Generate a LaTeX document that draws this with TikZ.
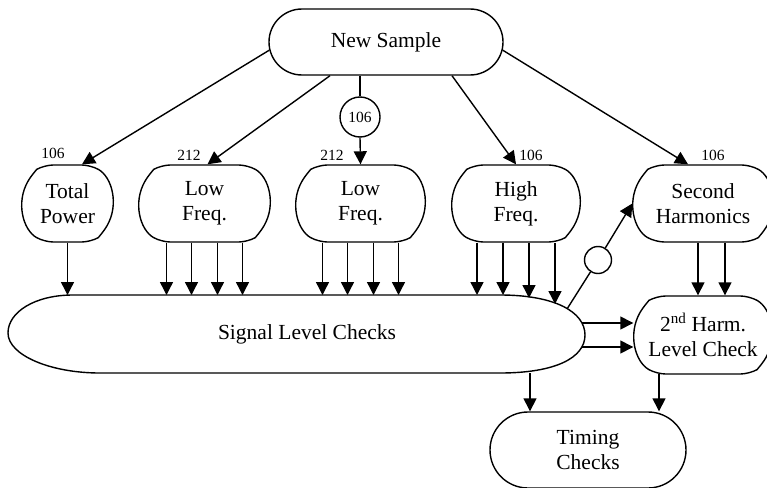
\documentclass[tikz,border=0pt]{standalone}
\usepackage{fontspec}
\setmainfont{Liberation Serif}
\usetikzlibrary{shapes.misc,arrows.meta}

\begin{document}
\begin{tikzpicture}[x=1pt, y=-1pt, line width=1.4pt,
  arr/.style={-{Triangle[length=13pt,width=13pt]}},
  txt/.style={font=\fontsize{21.5}{25}\selectfont, align=center},
  pill/.style={txt, draw, rounded rectangle, inner sep=0pt},
  block/.style={pill, rounded rectangle arc length=120, rounded corners=9pt, minimum height=77},
  num/.style={font=\fontsize{15.5}{18}\selectfont, inner sep=0pt}]

\useasboundingbox (0,0) rectangle (767,487);

\node[pill, minimum width=234, minimum height=66] (ns) at (386,42) {New Sample};

\node[block, minimum width=91]  (tp) at (67.5,203.5) {Total\\Power};
\node[block, minimum width=131] (lfa) at (204.5,203.5) {Low\\Freq.};
\node[block, minimum width=129] (lfb) at (360.5,203.5) {Low\\Freq.};
\node[block, minimum width=128] (hf) at (516,203.5) {High\\Freq.};
\node[block, minimum width=140] (sh) at (703,203.5) {Second\\Harmonics};

\node[block, minimum width=138, minimum height=78] (hl) at (703,335) {2\textsuperscript{nd} Harm.\\Level Check};
\node[pill, minimum width=196, minimum height=76] (tc) at (588,450) {Timing\\Checks};

\node[num] (ntp) at (53,153) {106};
\node[num] (nlfa) at (189,155) {212};
\node[num] (nlfb) at (332,155) {212};
\node[num] (nhf) at (531,155) {106};
\node[num] (nsh) at (713,155) {106};

\node[num, draw, circle, minimum size=40] (c106) at (360,117) {106};
\node[draw, circle, minimum size=27, inner sep=0pt] (sw) at (598,260) {};

% signal level checks
\draw (73,295) -- (500,295) .. controls (555,295) and (585,312) .. (585,335)
  .. controls (585,358) and (555,373) .. (500,373) -- (100,373)
  .. controls (50,373) and (8,355) .. (8,333)
  .. controls (8,312) and (35,295) .. (73,295) -- cycle;
\node[txt] (slc) at (307,334) {Signal Level Checks};
\coordinate (slctop) at (0,295);
\coordinate (slcne) at (567,309);
\coordinate (slcea) at (582,323);
\coordinate (slceb) at (582,347);
\coordinate (slcs) at (530,373);
\coordinate (hls) at (659,374);

\draw[arr] (ns.184) -- ([xshift=14.5pt]tp.north);
\draw[arr] ([xshift=28pt]ns.south west) -- ([xshift=3pt]lfa.north);
\draw (c106.north |- ns.south) -- (c106.north);
\draw[arr] (c106.south) -- (lfb.north);
\draw[arr] ([xshift=66pt]ns.south) -- (hf.north);
\draw[arr] (ns.-4) -- ([xshift=-15pt]sh.north);

\draw[arr] (tp.south) -- (tp.south |- slctop);
\foreach \dx in {-38,-13,13,38}{
  \draw[arr] ([xshift=\dx pt]lfa.south) -- ([xshift=\dx pt]lfa.south |- slctop);
  \draw[arr] ([xshift=\dx pt]lfb.south) -- ([xshift=\dx pt]lfb.south |- slctop);
}
\foreach \dx/\ty in {-39/295,-13/295,13/298,39/304}
  \draw[arr] ([xshift=\dx pt]hf.south) -- ([xshift=\dx pt]hf.south |- 0,\ty);

\draw (slcne) -- (sw);
\draw[arr] (sw) -- (sh.west);
\draw[arr] ([xshift=-5pt]sh.south) -- ([xshift=-5pt]hl.north);
\draw[arr] ([xshift=22pt]sh.south) -- ([xshift=22pt]hl.north);
\draw[arr] (slcea) -- (slcea -| hl.west);
\draw[arr] (slceb) -- (slceb -| hl.west);
\draw[arr] (slcs) -- (slcs |- tc.north);
\draw[arr] (hls) -- (hls |- tc.north);

\end{tikzpicture}
\end{document}
